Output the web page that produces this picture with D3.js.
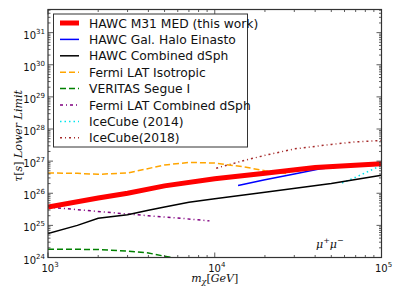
<!DOCTYPE html>
<html>
<head>
<meta charset="utf-8">
<script src="https://cdn.jsdelivr.net/npm/d3@7"></script>
<style>
  body { margin: 0; background: #fff; }
  text { font-family: "DejaVu Sans", sans-serif; }
  .math { font-family: "DejaVu Serif", serif; font-style: italic; }
</style>
</head>
<body>
<script>
// data (mass in GeV, log10 of lifetime limit in s)
var m31Mass = [1000, 2000, 3000, 5000, 10000, 20000, 40000, 100000];
var m31Tau = [25.57, 25.85, 26.0, 26.23, 26.45, 26.62, 26.8, 26.92];

var haloMass = [13800, 20000, 30000, 43000, 60000, 100000];
var haloTau = [26.24, 26.42, 26.6, 26.76, 26.83, 26.88];

var dsphMass = [1000, 1500, 2000, 3000, 4000, 5000, 7000, 10000, 20000, 50000, 100000];
var dsphTau = [24.75, 25.0, 25.22, 25.33, 25.47, 25.57, 25.72, 25.83, 26.03, 26.3, 26.56];

var isoMass = [1000, 1500, 2000, 3000, 5000, 7000, 10000, 15000, 20000, 28000];
var isoTau = [26.63, 26.62, 26.59, 26.63, 26.88, 26.96, 26.94, 26.82, 26.7, 26.6];

var segueMass = [1000, 2000, 3000, 4000, 5000, 6000, 8000];
var segueTau = [24.26, 24.25, 24.2, 24.14, 24.04, 23.97, 23.9];

var fermiDsphMass = [1000, 1500, 2500, 4000, 6000, 9300];
var fermiDsphTau = [25.57, 25.49, 25.39, 25.3, 25.23, 25.14];

var ic14Mass = [58000, 70000, 85000, 100000];
var ic14Tau = [26.32, 26.5, 26.7, 26.87];

var ic18Mass = [10200, 15000, 20000, 30000, 50000, 70000, 100000];
var ic18Tau = [26.78, 27.02, 27.18, 27.38, 27.52, 27.6, 27.64];

var yTickExp = [24, 25, 26, 27, 28, 29, 30, 31];
var xTickExp = [3, 4, 5];

var series = [
  {name: "HAWC M31 MED (this work)", x: m31Mass, y: m31Tau, color: "#ff0000", width: 5, dash: null},
  {name: "HAWC Gal. Halo Einasto", x: haloMass, y: haloTau, color: "#0000ff", width: 1.5, dash: null},
  {name: "HAWC Combined dSph", x: dsphMass, y: dsphTau, color: "#000000", width: 1.5, dash: null},
  {name: "Fermi LAT Isotropic", x: isoMass, y: isoTau, color: "#ffa500", width: 1.5, dash: "6,3"},
  {name: "VERITAS Segue I", x: segueMass, y: segueTau, color: "#008000", width: 1.5, dash: "6,3"},
  {name: "Fermi LAT Combined dSph", x: fermiDsphMass, y: fermiDsphTau, color: "#800080", width: 1.5, dash: "3,3,1,3"},
  {name: "IceCube (2014)", x: ic14Mass, y: ic14Tau, color: "#00e5ee", width: 1.5, dash: "1.5,3"},
  {name: "IceCube(2018)", x: ic18Mass, y: ic18Tau, color: "#a52a2a", width: 1.5, dash: "2,3,1,3"}
];

var width = 399, height = 299;
var margin = {top: 9.5, right: 17.5, bottom: 41.5, left: 48};

var svg = d3.select("body").append("svg")
    .attr("width", width)
    .attr("height", height);

var x = d3.scaleLog()
    .domain([1e3, 1e5])
    .range([margin.left, width - margin.right]);

var y = d3.scaleLog()
    .domain([1e24, Math.pow(10, 31.72)])
    .range([height - margin.bottom, margin.top]);

svg.append("clipPath").attr("id", "plot")
  .append("rect")
    .attr("x", margin.left).attr("y", margin.top)
    .attr("width", width - margin.left - margin.right)
    .attr("height", height - margin.top - margin.bottom);

// curves
var line = d3.line()
    .x(function(d){ return x(d[0]); })
    .y(function(d){ return y(Math.pow(10, d[1])); });

var drawOrder = [7, 6, 5, 4, 3, 2, 1, 0];
drawOrder.forEach(function(i){
  var s = series[i];
  svg.append("path")
    .datum(d3.zip(s.x, s.y))
    .attr("clip-path", "url(#plot)")
    .attr("fill", "none")
    .attr("stroke", s.color)
    .attr("stroke-width", s.width)
    .attr("stroke-dasharray", s.dash)
    .attr("d", line);
});

// ticks on all four sides, pointing inward
var minorX = [], minorY = [];
for (var e = 3; e < 5; e++) for (var k = 2; k < 10; k++) minorX.push(k * Math.pow(10, e));
for (var e2 = 24; e2 < 32; e2++) for (var k2 = 2; k2 < 10; k2++) {
  var v = k2 * Math.pow(10, e2);
  if (v <= y.domain()[1]) minorY.push(v);
}

var x0 = margin.left, x1 = width - margin.right;
var y0 = height - margin.bottom, y1 = margin.top;
var tickColor = "#333";

function tickX(vals, len){
  vals.forEach(function(v){
    svg.append("line").attr("x1", x(v)).attr("x2", x(v)).attr("y1", y0).attr("y2", y0 - len)
      .attr("stroke", tickColor).attr("stroke-width", 0.8);
    svg.append("line").attr("x1", x(v)).attr("x2", x(v)).attr("y1", y1).attr("y2", y1 + len)
      .attr("stroke", tickColor).attr("stroke-width", 0.8);
  });
}
function tickY(vals, len){
  vals.forEach(function(v){
    svg.append("line").attr("y1", y(v)).attr("y2", y(v)).attr("x1", x0).attr("x2", x0 + len)
      .attr("stroke", tickColor).attr("stroke-width", 0.8);
    svg.append("line").attr("y1", y(v)).attr("y2", y(v)).attr("x1", x1).attr("x2", x1 - len)
      .attr("stroke", tickColor).attr("stroke-width", 0.8);
  });
}
tickX(xTickExp.map(function(p){ return Math.pow(10, p); }), 5);
tickX(minorX, 2.5);
tickY(yTickExp.map(function(p){ return Math.pow(10, p); }), 5);
tickY(minorY, 2.5);

// frame
svg.append("rect")
  .attr("x", x0).attr("y", y1)
  .attr("width", x1 - x0).attr("height", y0 - y1)
  .attr("fill", "none").attr("stroke", "#333").attr("stroke-width", 1.2);

// tick labels
function powLabel(g, p){
  g.append("tspan").text("10");
  g.append("tspan").attr("dy", -5).attr("font-size", 7).text(p);
}
xTickExp.forEach(function(p){
  var t = svg.append("text")
    .attr("x", x(Math.pow(10, p)) + 2)
    .attr("y", y0 + 14)
    .attr("text-anchor", "middle")
    .attr("font-size", 10)
    .attr("fill", "#111");
  powLabel(t, p);
});
yTickExp.forEach(function(p){
  var t = svg.append("text")
    .attr("x", x0 - 3)
    .attr("y", y(Math.pow(10, p)) + 6)
    .attr("text-anchor", "end")
    .attr("font-size", 10)
    .attr("fill", "#111");
  powLabel(t, p);
});

// axis titles
var xt = svg.append("text").attr("class", "math")
  .attr("x", (x0 + x1) / 2).attr("y", 282)
  .attr("text-anchor", "middle").attr("font-size", 11).attr("fill", "#111");
xt.append("tspan").text("m");
xt.append("tspan").attr("dy", 2).attr("font-size", 8).text("χ");
xt.append("tspan").attr("dy", -2).attr("font-style", "normal").text("[");
xt.append("tspan").text("GeV");
xt.append("tspan").attr("font-style", "normal").text("]");

var yt = svg.append("text").attr("class", "math")
  .attr("transform", "translate(22,136) rotate(-90)")
  .attr("text-anchor", "middle").attr("font-size", 11).attr("fill", "#111");
yt.append("tspan").text("τ");
yt.append("tspan").attr("font-style", "normal").text("[");
yt.append("tspan").text("s");
yt.append("tspan").attr("font-style", "normal").text("] ");
yt.append("tspan").text("Lower Limit");

// channel annotation
var ann = svg.append("text").attr("class", "math")
  .attr("x", 316).attr("y", 248).attr("font-size", 11).attr("fill", "#111");
ann.append("tspan").text("μ");
ann.append("tspan").attr("dy", -5).attr("font-size", 8).text("+");
ann.append("tspan").attr("dy", 5).text("μ");
ann.append("tspan").attr("dy", -5).attr("font-size", 8).text("−");

// legend
var lg = svg.append("g");
lg.append("rect")
  .attr("x", 53.5).attr("y", 14).attr("width", 194).attr("height", 133)
  .attr("fill", "#fff").attr("stroke", "#333").attr("stroke-width", 1);
series.forEach(function(s, i){
  var ly = 23 + i * 16.4;
  lg.append("line")
    .attr("x1", 60).attr("x2", 79).attr("y1", ly).attr("y2", ly)
    .attr("stroke", s.color).attr("stroke-width", s.width)
    .attr("stroke-dasharray", s.dash);
  lg.append("text")
    .attr("x", 89).attr("y", ly + 4.5)
    .attr("font-size", 12.3).attr("fill", "#111")
    .text(s.name);
});
</script>
</body>
</html>
